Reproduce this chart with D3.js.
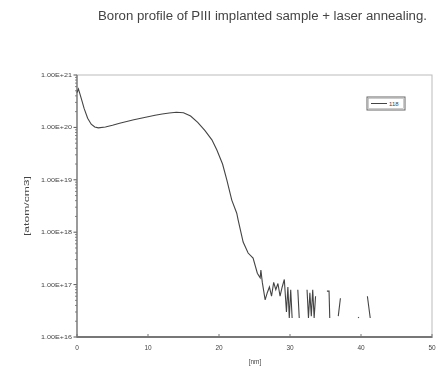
<!DOCTYPE html>
<html>
<head>
<meta charset="utf-8">
<script src="https://cdnjs.cloudflare.com/ajax/libs/d3/7.8.5/d3.min.js"></script>
<style>
  body { margin: 0; background: #fff; }
  svg { display: block; filter: blur(0.35px); }
  text { font-family: "Liberation Sans", Arial, sans-serif; fill: #444; }
</style>
</head>
<body>
<svg width="439" height="367"></svg>
<script>
// depth [nm] and boron concentration [atom/cm3]; null = no counts (gap in log plot)
const depth = [0, 0.2, 0.4, 0.7, 1, 1.5, 2, 2.5, 3, 4, 5, 6, 7, 8, 9, 10, 11, 12, 13, 14, 15, 16, 17, 18, 19, 19.7,
  20.5, 21.1, 21.8, 22.5, 22.7, 23.4, 24.1, 24.8, 25.4, 25.8, 25.9, 26.1, 26.5, 26.8, 27.1, 27.4, 27.7, 28, 28.3,
  28.6, 28.9, 29.2, 29.5, 29.7, 29.9, 30.1, 30.3, 30.5, 31.1, 31.3, 31.5, 32.4, 32.6, 32.8, 33, 33.2, 33.4, 33.6,
  33.8, 35.2, 35.5, 35.6, 35.8, 36.8, 37.1, 37.3, 39.6, 39.7, 39.9, 40.9, 41.3];
const conc = [4.6e20, 5.4e20, 4.4e20, 3.2e20, 2.3e20, 1.5e20, 1.15e20, 1.02e20, 0.98e20, 1.02e20, 1.1e20, 1.2e20,
  1.3e20, 1.4e20, 1.5e20, 1.6e20, 1.7e20, 1.8e20, 1.88e20, 1.95e20, 1.9e20, 1.65e20, 1.25e20, 8.8e19, 5.8e19, 3.7e19,
  2.0e19, 1.0e19, 4.1e18, 2.3e18, 1.7e18, 6.5e17, 4.0e17, 3.2e17, 1.65e17, 1.35e17, 1.9e17, 1.1e17, 5.1e16, 7e16,
  9e16, 6e16, 1.1e17, 8e16, 1.05e17, 6e16, 9e16, 1.25e17, 3e16, 9e16, 2.3e16, 8e16, 2.3e16, null, 8e16, 2.3e16, null,
  8e16, 2.3e16, 7e16, 2.5e16, 8e16, 2.3e16, 6e16, null, 7.5e16, 7.5e16, 2.3e16, null, 2.5e16, 5.5e16, null, 2.4e16,
  2.3e16, null, 6e16, 2.3e16];
const xTicks = [0, 10, 20, 30, 40, 50];
const yTicks = [1e16, 1e17, 1e18, 1e19, 1e20, 1e21];
const seriesName = "118";
const title = "Boron profile of PIII implanted sample + laser annealing.";

const svg = d3.select("svg");
const m = {left: 77, right: 432, top: 75, bottom: 337};

const x = d3.scaleLinear().domain([0, 50]).range([m.left, m.right]);
const y = d3.scaleLog().domain([1e16, 1e21]).range([m.bottom, m.top]);

svg.append("text").attr("x", 98).attr("y", 20)
  .attr("textLength", 329).attr("lengthAdjust", "spacingAndGlyphs")
  .style("font-size", "12px").text(title);

// frame
svg.append("rect").attr("x", m.left).attr("y", m.top)
  .attr("width", m.right - m.left).attr("height", m.bottom - m.top)
  .attr("fill", "none").attr("stroke", "#bbb").attr("stroke-width", 1);

// y axis with minor log ticks
const minor = [];
yTicks.slice(0, -1).forEach(t => { for (let k = 2; k < 10; k++) minor.push(t * k); });
const gy = svg.append("g");
gy.selectAll("line.mi").data(minor).enter().append("line")
  .attr("x1", m.left - 2).attr("x2", m.left).attr("y1", d => y(d)).attr("y2", d => y(d))
  .attr("stroke", "#666").attr("stroke-width", 0.8);
gy.selectAll("line.ma").data(yTicks).enter().append("line")
  .attr("x1", m.left - 3.5).attr("x2", m.left).attr("y1", d => y(d)).attr("y2", d => y(d))
  .attr("stroke", "#555").attr("stroke-width", 1);
gy.selectAll("text").data(yTicks).enter().append("text")
  .attr("x", m.left - 36).attr("y", d => y(d) + 2)
  .attr("textLength", 31).attr("lengthAdjust", "spacingAndGlyphs")
  .style("font-size", "5.5px").text(d => d.toExponential(2).toUpperCase());
gy.append("line").attr("x1", m.left).attr("x2", m.left).attr("y1", m.top).attr("y2", m.bottom)
  .attr("stroke", "#777").attr("stroke-width", 1.3);

// x axis
const gx = svg.append("g");
gx.append("line").attr("x1", m.left).attr("x2", m.right).attr("y1", m.bottom).attr("y2", m.bottom)
  .attr("stroke", "#777").attr("stroke-width", 1.8);
gx.selectAll("line.t").data(xTicks).enter().append("line")
  .attr("x1", d => x(d)).attr("x2", d => x(d)).attr("y1", m.bottom - 3).attr("y2", m.bottom + 1)
  .attr("stroke", "#777").attr("stroke-width", 1);
gx.selectAll("text").data(xTicks).enter().append("text")
  .attr("x", d => x(d)).attr("y", m.bottom + 13).attr("text-anchor", "middle")
  .style("font-size", "6.5px").text(d => d);

svg.append("text").attr("x", 255).attr("y", 364).attr("text-anchor", "middle")
  .style("font-size", "6.5px").text("[nm]");
svg.append("text").attr("transform", "translate(29,206) rotate(-90)").attr("text-anchor", "middle")
  .attr("textLength", 60).attr("lengthAdjust", "spacingAndGlyphs")
  .style("font-size", "8px").text("[atom/cm3]");

// profile
const pts = depth.map((d, i) => [d, conc[i]]);
const line = d3.line().defined(p => p[1] != null).x(p => x(p[0])).y(p => y(p[1]));
svg.append("path").datum(pts).attr("d", line)
  .attr("fill", "none").attr("stroke", "#444").attr("stroke-width", 1.1);
// isolated single points
svg.selectAll("circle").data(pts.filter((p, i) => p[1] != null && conc[i - 1] == null && conc[i + 1] == null))
  .enter().append("circle").attr("cx", p => x(p[0])).attr("cy", p => y(p[1])).attr("r", 0.7).attr("fill", "#444");

// legend
const lg = svg.append("g").attr("transform", "translate(367,97)");
lg.append("rect").attr("width", 38).attr("height", 13).attr("fill", "#fff")
  .attr("stroke", "#666").attr("stroke-width", 1);
lg.append("rect").attr("x", 1.5).attr("y", 1.5).attr("width", 35).attr("height", 10).attr("fill", "none")
  .attr("stroke", "#aaa").attr("stroke-width", 0.6);
lg.append("line").attr("x1", 4).attr("x2", 20).attr("y1", 6.5).attr("y2", 6.5)
  .attr("stroke", "#444").attr("stroke-width", 1);
lg.append("text").attr("x", 22).attr("y", 8.8).style("font-size", "6px").text(seriesName);
</script>
</body>
</html>
